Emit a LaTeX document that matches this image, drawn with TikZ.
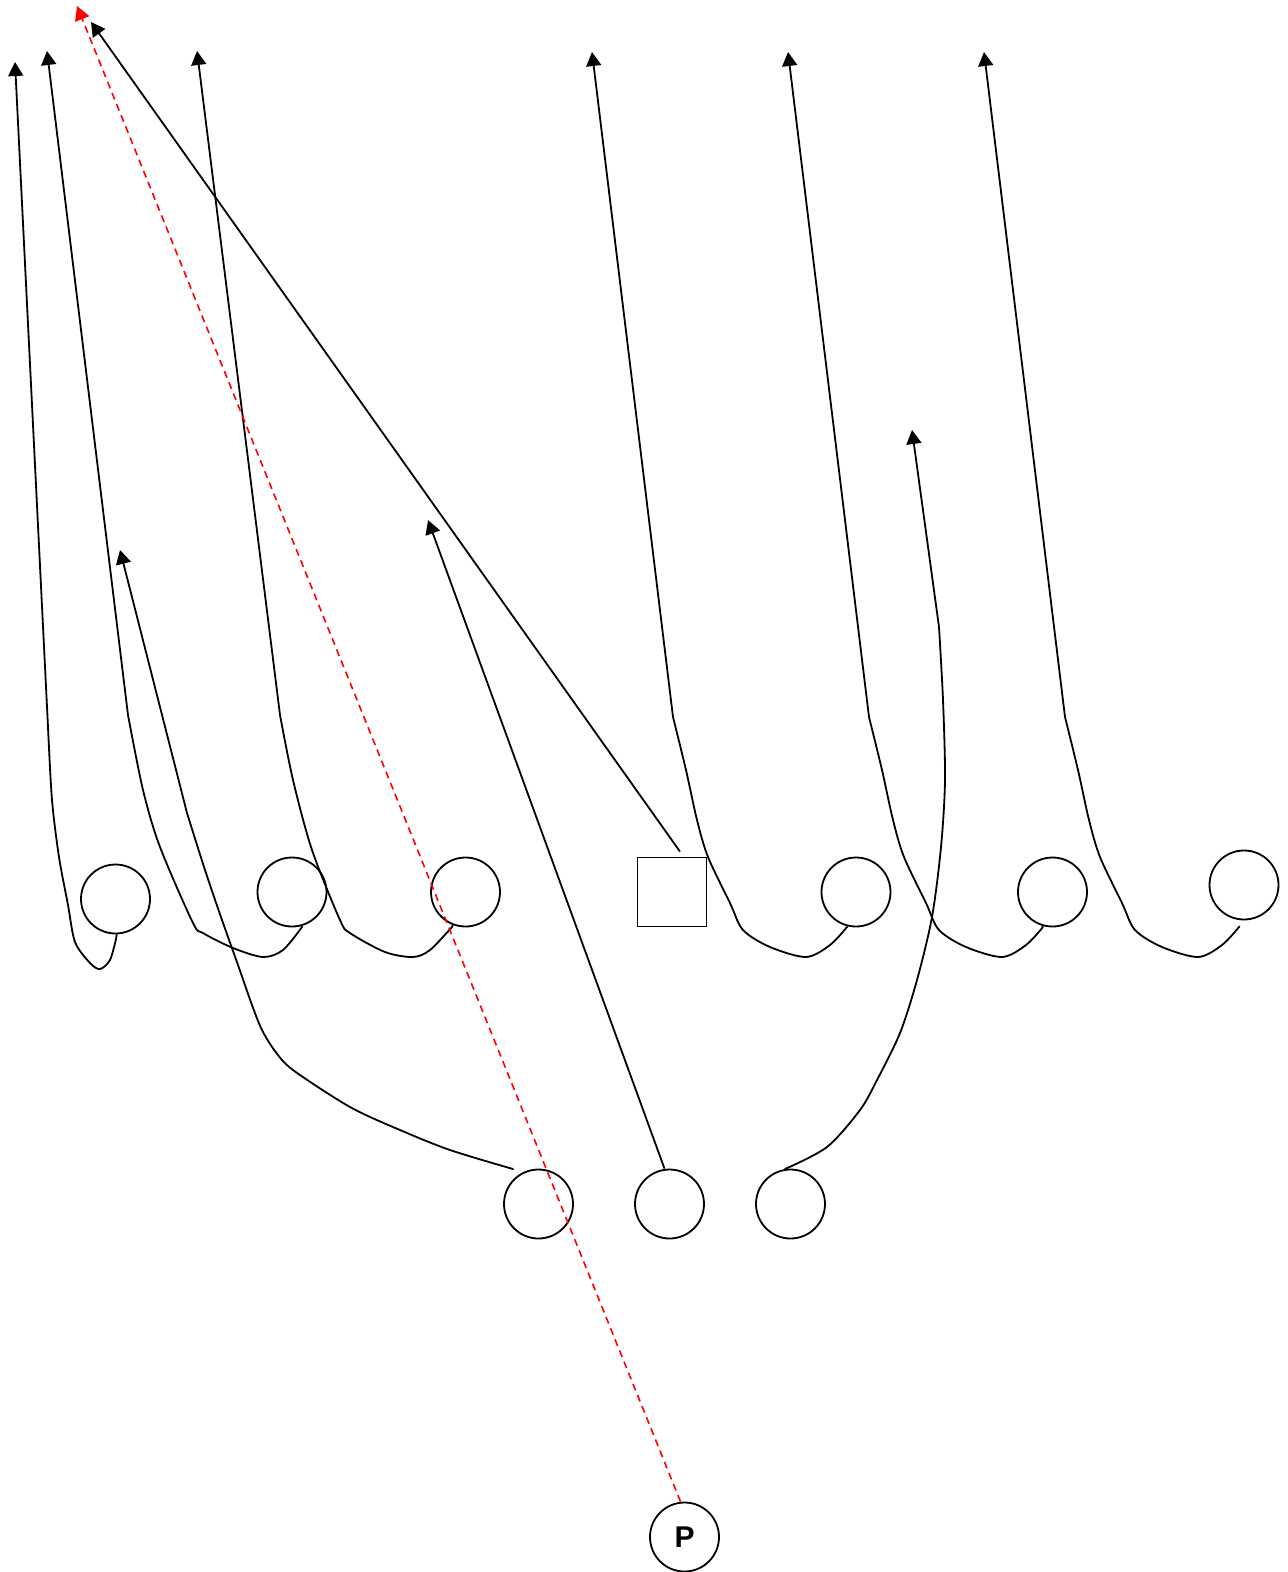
\documentclass[tikz,border=0pt]{standalone}
\usepackage{fontspec}
\setmainfont{Liberation Sans}
\usetikzlibrary{arrows.meta,calc}
\tikzset{
  player/.style={circle, draw, line width=1.8pt, minimum size=69pt, inner sep=0pt},
  lineman/.style={rectangle, draw, line width=1.8pt, minimum size=69pt, inner sep=0pt},
  route/.style={draw, line width=1.8pt, line join=round, -{Triangle[length=14pt,width=15pt]}},
  pass/.style={draw=red, line width=1.6pt, dash pattern=on 7pt off 5pt, -{Triangle[length=14pt,width=15pt,fill=red]}}
}
\begin{document}
\begin{tikzpicture}[x=1pt,y=-1pt]
\useasboundingbox (0,0) rectangle (1288,1572);
% players
\node[player] (c1) at (115.5,899) {};
\node[player] (c2) at (292,892) {};
\node[player] (c3) at (465.5,892) {};
\node[lineman] (sq) at (672,892) {};
\node[player] (c5) at (856,892) {};
\node[player] (c6) at (1052.5,892) {};
\node[player] (c7) at (1244,885) {};
\node[player] (b1) at (538.5,1204) {};
\node[player] (b2) at (669.5,1204) {};
\node[player] (b3) at (790.5,1204) {};
\node[player] (p) at (684.5,1537) {\fontsize{30}{36}\selectfont\bfseries P};
% route ends
\coordinate (t1) at (15,62);
\coordinate (t2) at (47,51);
\coordinate (t3) at (197,51);
\coordinate (t4) at (91,22);
\coordinate (t5) at (592,52);
\coordinate (t6) at (788,52);
\coordinate (t7) at (984,52);
\coordinate (tb1) at (120,550);
\coordinate (tb2) at (428,520);
\coordinate (tb3) at (912,430);
\coordinate (tp) at (77,6);
% routes
\draw[route] (c1.-88) -- plot[smooth] coordinates {(116,939) (110,960) (100,969) (90,963) (75,942) (68,905) (59,857) (52,800) (48,727)} -- (t1);
\draw[route] (c2.-74) -- plot[smooth] coordinates {(302,927) (283,950) (263,957) (233,948) (203,933) (193,923) (160,847) (143,790) (128,715)} -- (t2);
\draw[route] (c3.-111) -- plot[smooth] coordinates {(452,927) (430,950) (413,957) (385,952) (350,933) (340,920) (312,850) (293,780) (280,715)} -- (t3);
\draw[route] ($(sq.north)+(8,-5)$) -- (t4);
\draw[route] (c5.-104) -- plot[smooth] coordinates {(847,927) (830,945) (806,957) (770,947) (743,930) (730,903) (708,857) (697,820) (686,770) (673,717)} -- (t5);
\draw[route] (c6.-107) -- plot[smooth] coordinates {(1043,927) (1026,945) (1002,957) (966,947) (939,930) (926,903) (904,857) (893,820) (882,770) (869,717)} -- (t6);
\draw[route] ($(c7.-97)+(0,6)$) -- plot[smooth] coordinates {(1239,927) (1222,945) (1198,957) (1162,947) (1135,930) (1122,903) (1100,857) (1089,820) (1078,770) (1065,717)} -- (t7);
\draw[route] ($(b1.north)+(-25,0)$) -- plot[smooth] coordinates {(513,1169) (450,1150) (400,1130) (350,1107) (293,1070) (275,1051) (262,1030) (252,1005) (238,965) (222,920) (205,870) (187,813)} -- (tb1);
\draw[route] ($(b2.north)+(-5,0)$) -- (tb2);
\draw[route] ($(b3.north)+(-5,0)$) -- plot[smooth] coordinates {(785,1169) (827,1147) (860,1110) (877,1080) (900,1033) (917,980) (932,917) (941,847) (945,780) (943,700) (939,627)} -- (tb3);
% pass
\draw[pass] ($(p.north)+(-4,0)$) -- (tp);
\end{tikzpicture}
\end{document}
